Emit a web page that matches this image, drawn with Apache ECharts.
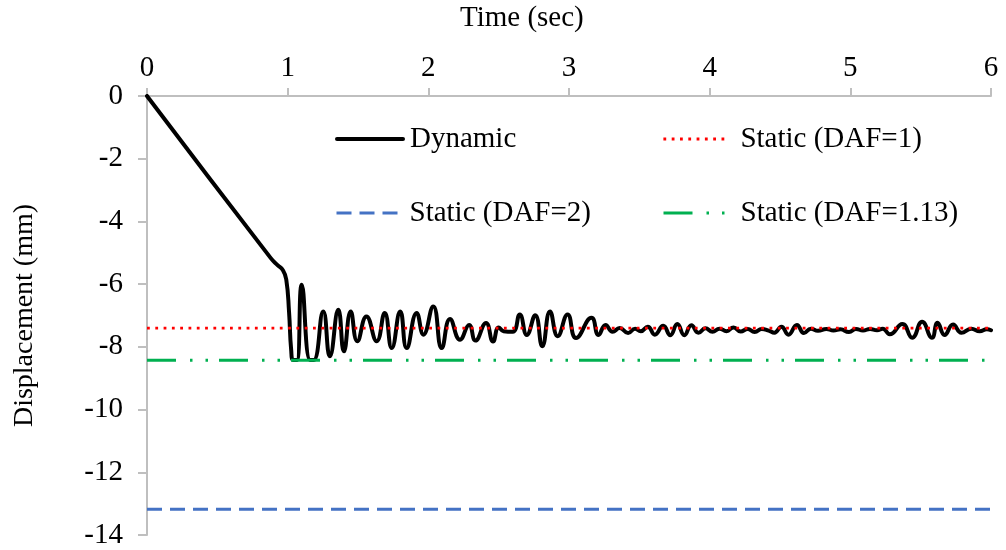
<!DOCTYPE html>
<html>
<head>
<meta charset="utf-8">
<script src="https://cdn.jsdelivr.net/npm/echarts@6/dist/echarts.min.js"></script>
<style>html,body{margin:0;padding:0;background:#fff}#c{width:1006px;height:550px}</style>
</head>
<body>
<div id="c"></div>
<script>
// Time (sec)
var dynTime = [0, 0.88, 0.93, 0.965, 0.99, 1.01, 1.025, 1.04, 1.065, 1.10, 1.16, 1.185, 1.253, 1.30, 1.36, 1.40, 1.448, 1.495, 1.56, 1.633, 1.69, 1.74, 1.80, 1.846, 1.917, 1.965, 2.035, 2.095, 2.154, 2.225, 2.29, 2.335, 2.41, 2.46, 2.50, 2.535, 2.60, 2.65, 2.70, 2.76, 2.81, 2.865, 2.92, 2.99, 3.05, 3.16, 3.21, 3.26, 3.31, 3.36, 3.42, 3.47, 3.51, 3.56, 3.61, 3.67, 3.72, 3.77, 3.82, 3.87, 3.92, 3.97, 4.02, 4.07, 4.12, 4.17, 4.22, 4.27, 4.32, 4.37, 4.42, 4.46, 4.51, 4.56, 4.62, 4.67, 4.72, 4.77, 4.83, 4.88, 4.93, 4.99, 5.04, 5.09, 5.14, 5.19, 5.23, 5.28, 5.37, 5.44, 5.51, 5.58, 5.62, 5.67, 5.73, 5.79, 5.86, 5.92, 5.97, 6.00];
// Displacement (mm), dynamic response
var dynDisp = [0, -5.17, -5.40, -5.55, -5.85, -6.9, -8.1, -8.42, -8.42, -6.02, -8.42, -8.42, -6.87, -8.30, -6.82, -8.14, -6.87, -7.82, -7.03, -7.82, -6.92, -8.04, -6.87, -8.04, -6.92, -7.61, -6.71, -8.04, -7.11, -7.77, -7.30, -7.80, -7.24, -7.83, -7.38, -7.50, -7.52, -6.97, -7.62, -6.99, -7.98, -6.87, -7.66, -6.97, -7.72, -7.07, -7.62, -7.30, -7.52, -7.40, -7.56, -7.42, -7.50, -7.36, -7.61, -7.33, -7.63, -7.27, -7.63, -7.31, -7.55, -7.41, -7.52, -7.42, -7.50, -7.38, -7.51, -7.43, -7.53, -7.43, -7.48, -7.55, -7.36, -7.61, -7.30, -7.56, -7.42, -7.49, -7.43, -7.48, -7.44, -7.53, -7.43, -7.48, -7.43, -7.47, -7.42, -7.60, -7.27, -7.71, -7.20, -7.71, -7.23, -7.62, -7.29, -7.55, -7.42, -7.50, -7.44, -7.47];
// Static lines
var staticNames = ['Static (DAF=1)', 'Static (DAF=2)', 'Static (DAF=1.13)'];
var staticValues = [-7.40, -13.18, -8.43];
var staticRange = [0, 6];
var xTicks = [0, 1, 2, 3, 4, 5, 6];
var yTicks = [0, -2, -4, -6, -8, -10, -12, -14];

var FONT = 'Liberation Serif';
var dynData = dynTime.map(function (t, i) { return [t, dynDisp[i]]; });
function staticData(v) { return staticRange.map(function (t) { return [t, v]; }); }

var chart = echarts.init(document.getElementById('c'), null, {renderer: 'canvas'});
function lg(name, left, top, padLeft) {
  return {
    data: [name], left: left, top: top,
    orient: 'horizontal', padding: 0, itemWidth: 66, itemHeight: 14,
    itemStyle: {color: 'rgba(0,0,0,0)', borderColor: 'rgba(0,0,0,0)', borderWidth: 0, opacity: 0},
    lineStyle: {width: 'inherit'},
    textStyle: {fontFamily: FONT, fontSize: 29, color: '#000', lineHeight: 30, padding: [0, 0, 0, padLeft]},
    selectedMode: false
  };
}
chart.setOption({
  animation: false,
  backgroundColor: '#fff',
  title: {text: 'Time (sec)', left: 460, top: 4, padding: 0,
    textStyle: {fontFamily: FONT, fontSize: 29, fontWeight: 'normal', color: '#000'}},
  legend: [
    lg('Dynamic', 335, 124, 2),
    lg(staticNames[0], 662, 124, 6),
    lg(staticNames[1], 335, 198, 2),
    lg(staticNames[2], 662, 198, 6)
  ],
  grid: {left: 147, right: 15, top: 96, bottom: 15, containLabel: false},
  xAxis: {
    type: 'value', position: 'top', min: 0, max: 6, interval: 1,
    axisLine: {show: true, onZero: false, lineStyle: {color: '#BFBFBF', width: 2}},
    axisTick: {show: true, inside: false, length: 8, lineStyle: {color: '#BFBFBF', width: 2}},
    axisLabel: {fontFamily: FONT, fontSize: 29, color: '#000', margin: 13,
      formatter: function (v) { return xTicks.indexOf(v) >= 0 ? String(v) : ''; }},
    splitLine: {show: false}
  },
  yAxis: {
    type: 'value', min: -14, max: 0, interval: 2,
    name: 'Displacement (mm)', nameLocation: 'middle', nameGap: 108, nameRotate: 90,
    nameTextStyle: {fontFamily: FONT, fontSize: 28, color: '#000'},
    axisLine: {show: true, onZero: false, lineStyle: {color: '#BFBFBF', width: 2}},
    axisTick: {show: true, inside: false, length: 9, lineStyle: {color: '#BFBFBF', width: 2}},
    axisLabel: {fontFamily: FONT, fontSize: 29, color: '#000', margin: 24,
      formatter: function (v) { return yTicks.indexOf(v) >= 0 ? String(v) : ''; }},
    splitLine: {show: false}
  },
  series: [
    {name: 'Dynamic', type: 'line', data: dynData, symbol: 'none', smooth: 0.5,
      lineStyle: {color: '#000', width: 4, cap: 'round', join: 'round'}, itemStyle: {color: '#000'}, z: 2},
    {name: staticNames[0], type: 'line', data: staticData(staticValues[0]), symbol: 'none',
      lineStyle: {color: '#FF0000', width: 2.8, type: [2.8, 5.5], cap: 'butt'}, itemStyle: {color: '#FF0000'}, z: 3},
    {name: staticNames[1], type: 'line', data: staticData(staticValues[1]), symbol: 'none',
      lineStyle: {color: '#4472C4', width: 3, type: [15, 8]}, itemStyle: {color: '#4472C4'}, z: 3},
    {name: staticNames[2], type: 'line', data: staticData(staticValues[2]), symbol: 'none',
      lineStyle: {color: '#00B050', width: 3, type: [29, 14, 2.5, 13, 2.5, 11]}, itemStyle: {color: '#00B050'}, z: 3}
  ]
});
</script>
</body>
</html>
